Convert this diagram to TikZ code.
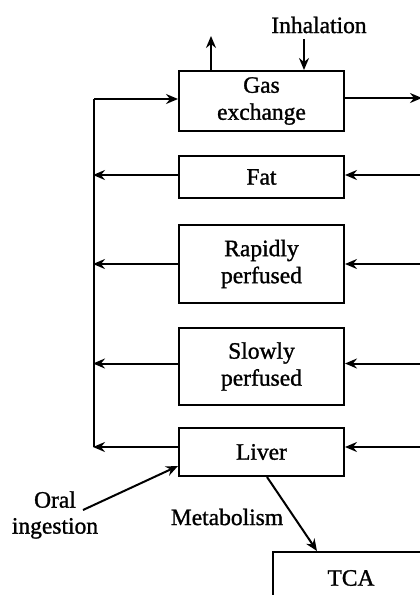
\documentclass[tikz,border=0pt]{standalone}
\usepackage{fontspec}
\setmainfont[FakeBold=1.2]{Liberation Serif}
\usetikzlibrary{arrows.meta}
\begin{document}
\begin{tikzpicture}[x=1pt,y=-1pt,
  box/.style={draw, line width=2pt, font=\fontsize{23.5}{27}\selectfont, align=center, inner sep=0pt, minimum width=165pt},
  lbl/.style={font=\fontsize{23.5}{26}\selectfont, align=center, inner sep=0pt},
  arr/.style={-{Stealth[length=12pt,width=10pt,inset=4pt]}, line width=2pt},
  ln/.style={line width=2pt}]
\useasboundingbox (0,0) rectangle (420,595);
\clip (0,0) rectangle (420,595);
% boxes
\node[box, minimum height=60pt] (gas) at (261.5,101) {Gas\\exchange};
\node[box, minimum height=42pt] (fat) at (261.5,177) {Fat};
\node[box, minimum height=78pt] (rap) at (261.5,264) {Rapidly\\perfused};
\node[box, minimum height=77pt] (slo) at (261.5,366.5) {Slowly\\perfused};
\node[box, minimum height=48pt] (liv) at (261.5,452) {Liver};
\node[box, minimum width=156pt, minimum height=52pt] (tca) at (351,578) {TCA};
% labels
\node[lbl] (inh) at (319,25) {Inhalation};
\node[lbl] (oral) at (55,515) {Oral\\ingestion};
\node[lbl] (met) at (227,517) {Metabolism};
% bus
\coordinate (top) at (94,99);
\coordinate (bot) at (94,447);
\coordinate (o1) at (83,510);
\draw[ln] (bot) -- (top);
\draw[arr] (top) -- ([yshift=2pt]gas.west);
% left outflows
\draw[arr] ([yshift=2pt]fat.west) -- ++(-85,0);
\draw[arr] (rap.west) -- ++(-85,0);
\draw[arr] ([yshift=3pt]slo.west) -- ++(-85,0);
\draw[arr] ([yshift=5pt]liv.west) -- ++(-85,0);
% right inflows
\draw[arr] ([yshift=2pt]fat.east) ++(80,0) -- ([yshift=2pt]fat.east);
\draw[arr] (rap.east) ++(80,0) -- (rap.east);
\draw[arr] ([yshift=3pt]slo.east) ++(80,0) -- ([yshift=3pt]slo.east);
\draw[arr] ([yshift=5pt]liv.east) ++(80,0) -- ([yshift=5pt]liv.east);
% gas exchange
\draw[arr] ([yshift=3pt]gas.east) -- ++(77,0);
\draw[arr] ([xshift=33pt]gas.north west) -- ++(0,-34);
\draw[arr] ([xshift=126pt]gas.north west) ++(0,-31) -- ([xshift=126pt]gas.north west);
% oral and metabolism
\draw[arr] (o1) -- ([yshift=11pt]liv.south west);
\draw[arr] ([xshift=89pt]liv.south west) -- ([xshift=45pt]tca.north west);
\end{tikzpicture}
\end{document}
